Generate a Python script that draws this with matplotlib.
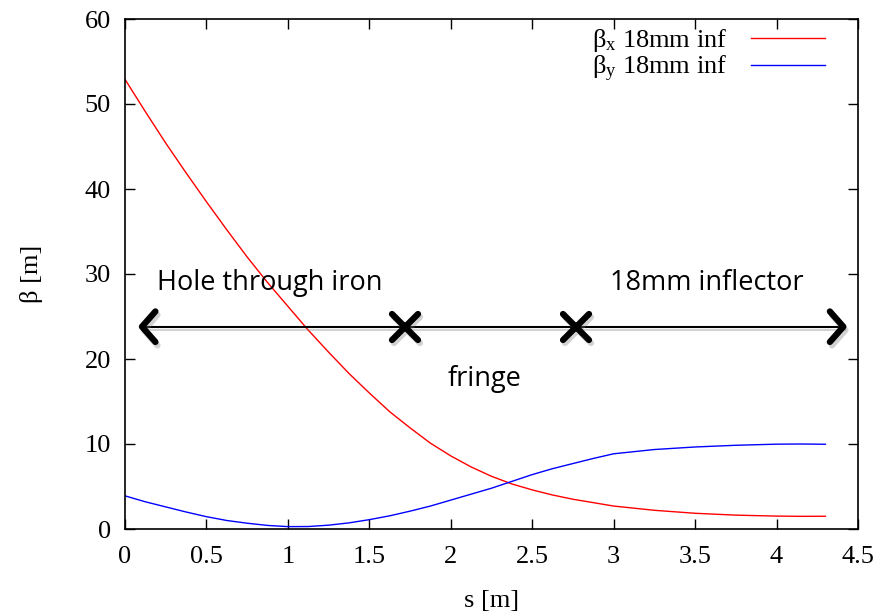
import numpy as np
import matplotlib.pyplot as plt
import matplotlib.patheffects as pe
from matplotlib.path import Path
from matplotlib.markers import MarkerStyle

# beta functions
s = [0.0, 0.125, 0.25, 0.375, 0.5, 0.625, 0.75, 0.875, 1.0, 1.125, 1.25, 1.375, 1.5, 1.625, 1.75, 1.875,
     2.0, 2.125, 2.25, 2.375, 2.5, 2.625, 2.75, 2.875, 3.0, 3.25, 3.5, 3.75, 4.0, 4.15, 4.3]
beta_x = [52.9, 49.1, 45.4, 41.9, 38.5, 35.2, 32.0, 29.0, 26.2, 23.4, 20.8, 18.3, 16.0, 13.8, 11.9, 10.1,
          8.6, 7.3, 6.2, 5.3, 4.6, 4.0, 3.5, 3.1, 2.7, 2.2, 1.85, 1.63, 1.52, 1.49, 1.5]
beta_y = [3.9, 3.2, 2.6, 2.0, 1.45, 1.0, 0.68, 0.42, 0.28, 0.29, 0.45, 0.72, 1.1, 1.55, 2.1, 2.7,
          3.4, 4.1, 4.8, 5.6, 6.4, 7.1, 7.7, 8.3, 8.85, 9.35, 9.65, 9.85, 9.98, 10.0, 9.97]

# region annotation
arrow_y = 23.8
arrow_ends = [0.104, 4.41]
region_marks = [1.72, 2.77]
region_labels = ["Hole through iron", "fringe", "18mm inflector"]
label_pos = [(0.89, 28.9), (2.21, 17.6), (3.57, 28.9)]

plt.rcParams['font.family'] = ['Liberation Serif', 'DejaVu Serif']
plt.rcParams['mathtext.fontset'] = 'custom'
plt.rcParams['mathtext.rm'] = 'Liberation Serif'
plt.rcParams['mathtext.it'] = 'Liberation Serif'

fig = plt.figure(figsize=(8.84, 6.15), dpi=100)
ax = fig.add_axes([125 / 884, 1 - 529 / 615, 733 / 884, 510 / 615])

ax.plot(s, beta_x, color='red', lw=1.0, label='β$_\\mathrm{x}$ 18mm inf')
ax.plot(s, beta_y, color='blue', lw=1.0, label='β$_\\mathrm{y}$ 18mm inf')

shadow = [pe.SimpleLineShadow(offset=(1.5, -2.5), shadow_color='gray', alpha=0.35), pe.Normal()]

# shaft
ax.plot(arrow_ends, [arrow_y, arrow_y], color='black', lw=1.5, path_effects=shadow, zorder=4)

# arrowheads (open chevrons)
chev_left = Path([(0.75, 0.85), (0.0, 0.0), (0.75, -0.85)], [Path.MOVETO, Path.LINETO, Path.LINETO])
chev_right = Path([(-0.75, 0.85), (0.0, 0.0), (-0.75, -0.85)], [Path.MOVETO, Path.LINETO, Path.LINETO])
for xe, path in zip(arrow_ends, [chev_left, chev_right]):
    ax.plot([xe], [arrow_y], linestyle='none',
            marker=MarkerStyle(path, fillstyle='none', joinstyle='round', capstyle='round'),
            markersize=22, markeredgewidth=4.5, color='black', path_effects=shadow, zorder=5)

ax.plot(region_marks, [arrow_y] * len(region_marks), linestyle='none',
        marker=MarkerStyle('x', joinstyle='round', capstyle='round'),
        markersize=19, markeredgewidth=4.5, color='black', path_effects=shadow, zorder=5)

for txt, (xt, yt) in zip(region_labels, label_pos):
    ax.text(xt, yt, txt, ha='center', va='center', fontsize=19.5,
            family=['Open Sans', 'DejaVu Sans'], color='black')

ax.set_xlim(0, 4.5)
ax.set_ylim(0, 60)
ax.set_xticks(np.arange(0, 4.51, 0.5))
ax.set_xticklabels(['0', '0.5', '1', '1.5', '2', '2.5', '3', '3.5', '4', '4.5'])
ax.set_yticks(np.arange(0, 61, 10))
ax.tick_params(direction='in', length=7, width=1, top=True, right=True, labelsize=19)
ax.tick_params(axis='x', pad=12)
ax.tick_params(axis='y', pad=10)
for sp in ax.spines.values():
    sp.set_linewidth(1.2)

ax.set_xlabel('s [m]', fontsize=19, labelpad=16)
ax.set_ylabel('β [m]', fontsize=19, labelpad=30)

leg = ax.legend(loc='upper right', bbox_to_anchor=(0.969, 1.005), frameon=False, markerfirst=False,
                fontsize=19, handlelength=2.8, handletextpad=0.9, labelspacing=0.0, borderaxespad=0.0)

fig.savefig('out.png', dpi=100)
